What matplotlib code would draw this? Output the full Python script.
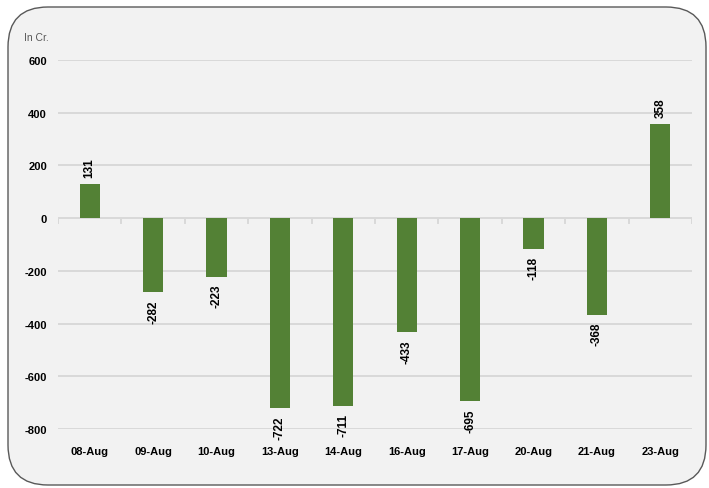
import matplotlib
matplotlib.use("Agg")
import matplotlib.pyplot as plt
from matplotlib.patches import FancyBboxPatch
import numpy as np

# data
dates = ["08-Aug", "09-Aug", "10-Aug", "13-Aug", "14-Aug",
         "16-Aug", "17-Aug", "20-Aug", "21-Aug", "23-Aug"]
flows = [131, -282, -223, -722, -711, -433, -695, -118, -368, 358]
yticks = [-800, -600, -400, -200, 0, 200, 400, 600]

plt.rcParams['font.family'] = ['Liberation Sans', 'DejaVu Sans']

W, H = 709, 489
fig = plt.figure(figsize=(W / 100, H / 100), dpi=100)
fig.patch.set_facecolor("white")

# background axes in pixel units, holds the rounded frame
bg = fig.add_axes([0, 0, 1, 1], zorder=-1)
bg.set_xlim(0, W)
bg.set_ylim(H, 0)
bg.axis("off")
frame = FancyBboxPatch((8, 8), 698, 478,
                       boxstyle="round,pad=0,rounding_size=40",
                       facecolor="#f2f2f2", edgecolor="#595959", linewidth=1.0)
bg.add_patch(frame)
bg.text(24, 38, "In Cr.", fontsize=7.5, color="#595959", va="center", ha="left")

ax = fig.add_axes([58 / W, 1 - 430 / H, 634 / W, 369 / H])
ax.set_facecolor("none")

x = np.arange(len(dates))
ax.bar(x, flows, width=0.32, color="#538135", zorder=3)

for xi, v in zip(x, flows):
    off = 5 if v >= 0 else -5
    ax.annotate(str(v), (xi, v), xytext=(0, off), textcoords="offset points",
                rotation=90, ha="center", va="bottom" if v >= 0 else "top",
                fontsize=8.5, fontweight="bold", color="black")

ax.set_xlim(-0.5, len(dates) - 0.5)
ax.set_ylim(-800, 600)
ax.set_yticks(yticks)
ax.set_yticklabels([str(t) for t in yticks], fontsize=8, fontweight="bold")
ax.yaxis.grid(True, color="#d9d9d9", linewidth=1.4, zorder=0)
ax.tick_params(axis="y", length=0, pad=8)

ax.set_xticks(x)
ax.set_xticklabels(dates, fontsize=8, fontweight="bold")
ax.tick_params(axis="x", length=0, pad=12)

# category boundary ticks on the zero line
for b in np.arange(-0.5, len(dates), 1.0):
    ax.plot([b, b], [0, -18], color="#d9d9d9", linewidth=1.4, zorder=2)
ax.axhline(0, color="#d9d9d9", linewidth=1.4, zorder=2)

for s in ax.spines.values():
    s.set_visible(False)

fig.savefig("out.png", dpi=100)
